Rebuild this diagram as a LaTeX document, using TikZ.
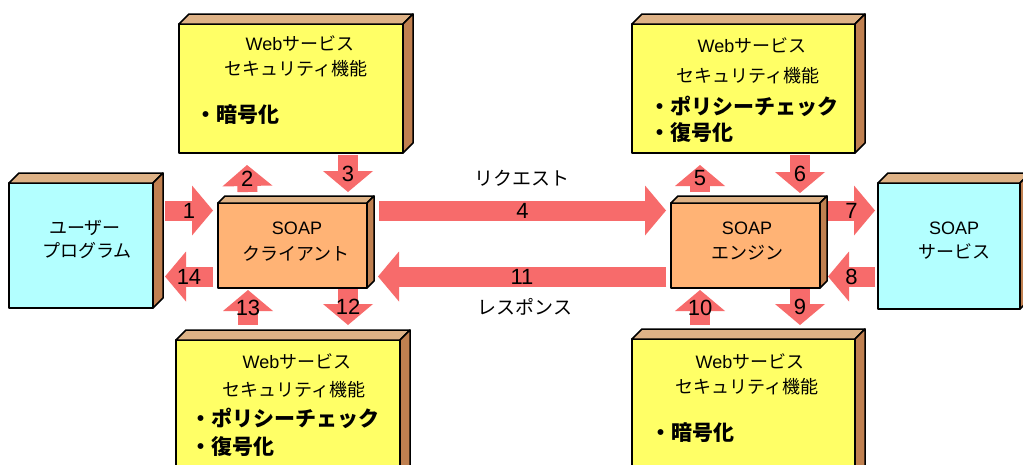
\documentclass[tikz,border=0pt]{standalone}
\usepackage{fontspec}
\setmainfont{Noto Sans CJK JP}
\newfontfamily\lat{Liberation Sans}
\usetikzlibrary{arrows.meta}
\definecolor{ayellow}{RGB}{255,255,102}
\definecolor{atop}{RGB}{222,178,134}
\definecolor{aside}{RGB}{192,128,80}
\definecolor{acyan}{RGB}{179,255,255}
\definecolor{aorange}{RGB}{255,179,117}
\definecolor{ared}{RGB}{247,107,107}
\newcommand\fsz[1]{\fontsize{#1}{#1}\selectfont}
\tikzset{
  frontface/.style={draw=black, line width=1.5pt, line join=round, anchor=north west, inner sep=0pt, outer sep=0pt},
  edge/.style={draw=black, line width=1.5pt, line join=round},
  barrow/.style={draw=ared, line width=20pt, line cap=butt, -{Triangle[width=50pt,length=21pt,line width=0pt]}},
  num/.style={font=\lat\fsz{22}, text=black, inner sep=0pt},
  txt/.style={inner sep=0pt, font=\fsz{18}},
  lbl/.style={inner sep=0pt, font=\fsz{19}},
  bul/.style={inner sep=0pt, anchor=west, font=\fsz{21}\bfseries},
}
\newcommand\boxthree[7]{%
  \node[frontface,fill=#7,minimum width=#4pt,minimum height=#5pt] (#1) at (#2,#3) {};
  \draw[edge,fill=atop] (#1.north west) -- ++(#6,-#6) -- ([shift={(#6,-#6)}]#1.north east) -- (#1.north east) -- cycle;
  \draw[edge,fill=aside] (#1.north east) -- ++(#6,-#6) -- ([shift={(#6,-#6)}]#1.south east) -- (#1.south east) -- cycle;
}
\begin{document}
\begin{tikzpicture}[x=1pt,y=-1pt]
\clip (0,0) rectangle (1023,464);
\fill[white] (0,0) rectangle (1023,464);
% boxes
\boxthree{yTL}{179}{24}{224}{129}{10}{ayellow}
\boxthree{yTR}{632}{24}{223}{129}{10}{ayellow}
\boxthree{yBL}{176}{340}{224}{140}{10}{ayellow}
\boxthree{yBR}{632}{339}{223}{140}{10}{ayellow}
\boxthree{user}{9}{183}{144}{125}{10}{acyan}
\boxthree{client}{218}{203}{149}{85}{7}{aorange}
\boxthree{engine}{671}{203}{149}{85}{7}{aorange}
\boxthree{service}{878}{183}{142}{126}{10}{acyan}
% box texts
\node[txt] (tTL1) at (300,43) {{\lat Web}サービス};
\node[txt] (tTL2) at (296,69) {セキュリティ機能};
\node[bul] (bTL1) at (195,115) {・暗号化};
\node[txt] (tTR1) at (752,45) {{\lat Web}サービス};
\node[txt] (tTR2) at (748,76) {セキュリティ機能};
\node[bul] (bTR1) at (649,106) {・ポリシーチェック};
\node[bul] (bTR2) at (649,133) {・復号化};
\node[txt] (tBL1) at (297,361) {{\lat Web}サービス};
\node[txt] (tBL2) at (294,390) {セキュリティ機能};
\node[bul] (bBL1) at (190,418) {・ポリシーチェック};
\node[bul] (bBL2) at (190,447) {・復号化};
\node[txt] (tBR1) at (750,361) {{\lat Web}サービス};
\node[txt] (tBR2) at (747,387) {セキュリティ機能};
\node[bul] (bBR1) at (650,433) {・暗号化};
\node[txt] (tU1) at (85,228) {ユーザー};
\node[txt] (tU2) at (87,251) {プログラム};
\node[txt] (tC1) at (297,228.5) {\lat SOAP};
\node[txt] (tC2) at (296,254) {クライアント};
\node[txt] (tE1) at (747,228) {\lat SOAP};
\node[txt] (tE2) at (747,253) {エンジン};
\node[txt] (tS1) at (954,228) {\lat SOAP};
\node[txt] (tS2) at (954,251) {サービス};
\node[lbl] (req) at (522,178) {リクエスト};
\node[lbl] (res) at (525,307) {レスポンス};
% arrows
\draw[barrow] ([shift={(12,-35)}]user.east) -- ([shift={(-5,-35)}]client.west) node[num,midway] (n1) {1};
\draw[barrow] ([shift={(-45,-11)}]client.north) -- ([shift={(-44,12)}]yTL.south) node[num,midway] (n2) {2};
\draw[barrow] ([shift={(57,2)}]yTL.south) -- ([shift={(55.5,-11)}]client.north) node[num,midway] (n3) {3};
\draw[barrow] ([shift={(12,-35)}]client.east) -- ([shift={(-5,-35)}]engine.west) node[num,midway] (n4) {4};
\draw[barrow] ([shift={(-45.5,-11)}]engine.north) -- ([shift={(-43.5,12)}]yTR.south) node[num,midway] (n5) {5};
\draw[barrow] ([shift={(56.5,2)}]yTR.south) -- ([shift={(54.5,-10)}]engine.north) node[num,midway] (n6) {6};
\draw[barrow] ([shift={(8,-35)}]engine.east) -- ([shift={(-3,-35.5)}]service.west) node[num,midway] (n7) {7};
\draw[barrow] ([shift={(-3,30.5)}]service.west) -- ([shift={(8,31)}]engine.east) node[num,midway] (n8) {8};
\draw[barrow] ([shift={(54.5,1)}]engine.south) -- ([shift={(56.5,-14)}]yBR.north) node[num,midway] (n9) {9};
\draw[barrow] ([shift={(-43.5,-14)}]yBR.north) -- ([shift={(-45.5,2)}]engine.south) node[num,midway] (n10) {10};
\draw[barrow] ([shift={(-5,31)}]engine.west) -- ([shift={(11,31)}]client.east) node[num,midway] (n11) {11};
\draw[barrow] ([shift={(55.5,1)}]client.south) -- ([shift={(60,-15)}]yBL.north) node[num,midway] (n12) {12};
\draw[barrow] ([shift={(-40,-15)}]yBL.north) -- ([shift={(-44.5,2)}]client.south) node[num,midway] (n13) {13};
\draw[barrow] ([shift={(-5,31)}]client.west) -- ([shift={(12,31)}]user.east) node[num,midway] (n14) {14};
\end{tikzpicture}
\end{document}
